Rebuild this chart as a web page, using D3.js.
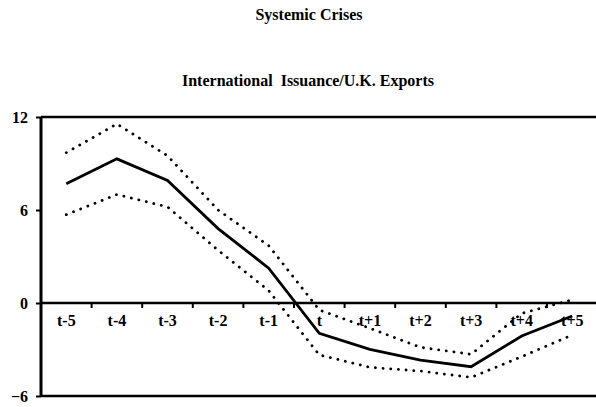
<!DOCTYPE html>
<html><head><meta charset="utf-8">
<script src="https://cdn.jsdelivr.net/npm/d3@7"></script>
<style>body{margin:0;background:#fff}svg{display:block}</style>
</head><body><svg id="c" width="596" height="407"></svg>
<script>
const categories = ["t-5","t-4","t-3","t-2","t-1","t","t+1","t+2","t+3","t+4","t+5"];
const meanValues = [7.7, 9.3, 7.9, 4.8, 2.25, -1.96, -2.99, -3.68, -4.11, -2.13, -0.84];
const upperValues = [9.7, 11.55, 9.5, 6.0, 3.7, -0.45, -1.63, -2.86, -3.31, -0.67, 0.21];
const lowerValues = [5.7, 7.0, 6.2, 3.4, 0.8, -3.35, -4.15, -4.39, -4.8, -3.46, -2.06];
const yTicks = [12, 6, 0, -6];
const title = "Systemic Crises";
const subtitle = "International  Issuance/U.K. Exports";

const FONT = "Liberation Serif";
const svg = d3.select("#c");
const x = d3.scaleBand().domain(categories).range([41, 597.6]).padding(0);
const y = d3.scaleLinear().domain([-6, 12]).range([396, 117]);

function styleText(sel, size) {
  sel.style("font-family", FONT).style("font-weight", "bold").style("font-size", size + "px").style("fill", "#000");
}

styleText(svg.append("text").attr("x", 309).attr("y", 20).attr("text-anchor","middle").text(title), 16);
styleText(svg.append("text").attr("x", 308).attr("y", 86).attr("text-anchor","middle").style("white-space","pre").text(subtitle), 16);

// top and bottom border lines
[12, -6].forEach(v => {
  svg.append("line").attr("x1", 41).attr("x2", 596).attr("y1", y(v)).attr("y2", y(v)).attr("stroke","#000").attr("stroke-width", 2.6);
});

// y axis
const yAxis = d3.axisLeft(y).tickValues(yTicks).tickSize(5).tickPadding(8).tickFormat(d3.format("d"));
const gy = svg.append("g").attr("transform","translate(41,0)").call(yAxis);
gy.select(".domain").attr("stroke-width", 3).attr("d", `M0,${y(12)}V${y(-6)}`);
gy.selectAll(".tick line").attr("stroke-width", 2);
styleText(gy.selectAll(".tick text").attr("dy","0.35em"), 16);

// x axis on zero line
const xAxis = d3.axisBottom(x).tickSize(0).tickPadding(16);
const gx = svg.append("g").attr("transform", `translate(0,${y(0)})`).call(xAxis);
gx.select(".domain").attr("stroke-width", 2.6).attr("d", "M41,0H596");
styleText(gx.selectAll(".tick text").attr("y", 23).attr("dy", 0), 16);
// tick marks at band boundaries
gx.selectAll(".bnd").data(categories.slice(1)).enter().append("line")
  .attr("x1", d => x(d)).attr("x2", d => x(d)).attr("y1", 0).attr("y2", 5)
  .attr("stroke","#000").attr("stroke-width", 2);

const line = d3.line().x((d,i) => x(categories[i]) + x.bandwidth()/2).y(d => y(d));
[upperValues, lowerValues].forEach(vals => {
  svg.append("path").datum(vals).attr("d", line).attr("fill","none").attr("stroke","#000")
    .attr("stroke-width",2.8).attr("stroke-linecap","round").attr("stroke-dasharray","0.1 7.6");
});
svg.append("path").datum(meanValues).attr("d", line).attr("fill","none").attr("stroke","#000").attr("stroke-width",2.8);
</script></body></html>
